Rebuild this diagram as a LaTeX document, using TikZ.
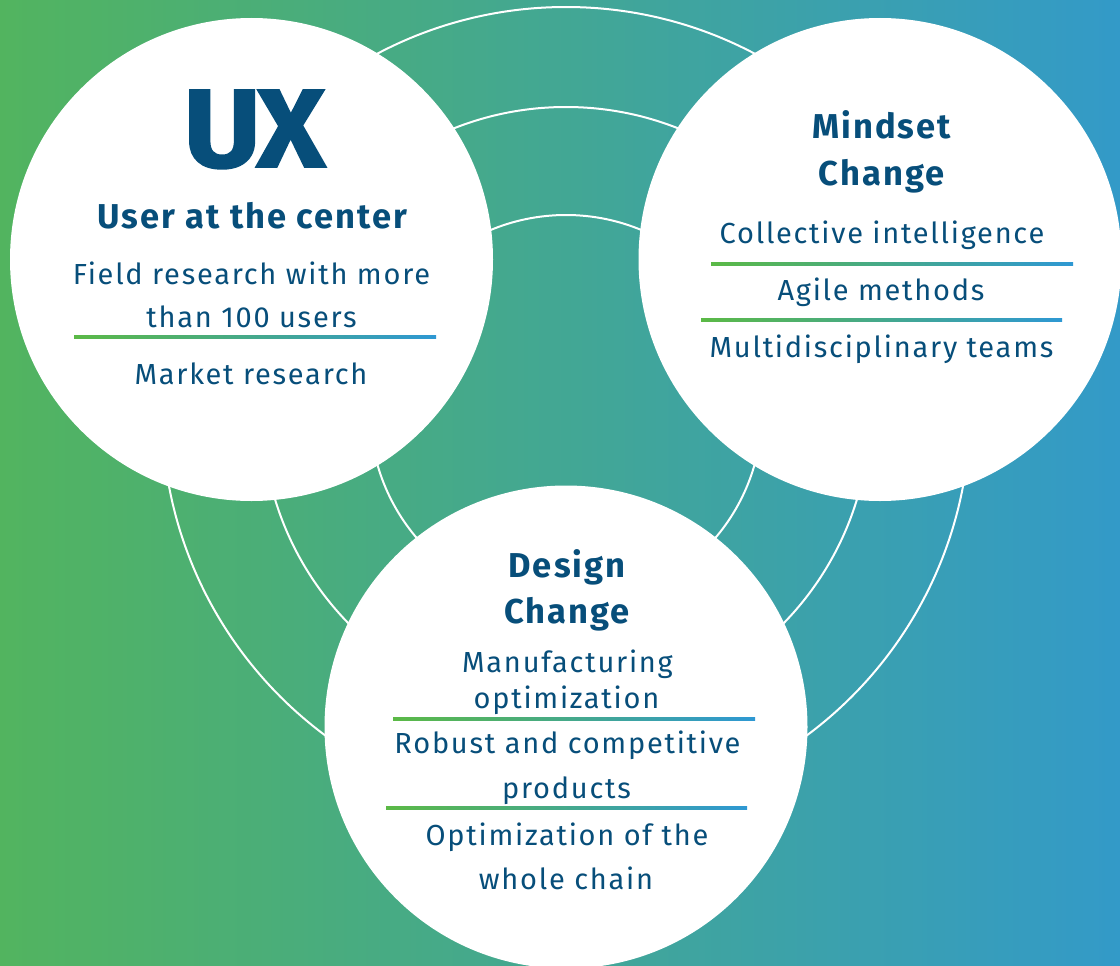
\documentclass[tikz,border=0pt]{standalone}
\usepackage{graphicx}
\usepackage{fontspec}
\setmainfont{Fira Sans}[LetterSpace=6]
\newfontfamily\logofont{Fira Sans}[BoldFeatures={FakeBold=1.5}]
\definecolor{bgL}{HTML}{52B45F}
\definecolor{bgR}{HTML}{339AC8}
\definecolor{txtblue}{HTML}{074E7A}
\definecolor{lnG}{HTML}{5BB946}
\definecolor{lnB}{HTML}{2E98D3}
\begin{document}
\begin{tikzpicture}[x=1pt,y=-1pt,
  bubble/.style={circle, fill=white, inner sep=0pt, minimum size=483pt},
  ring/.style={draw=white, line width=2pt},
  head/.style={anchor=base, inner sep=0pt, text=txtblue, font=\fontsize{34.5}{40}\selectfont\bfseries},
  body/.style={anchor=base, inner sep=0pt, text=txtblue, font=\fontsize{29}{34}\selectfont},
  logo/.style={anchor=base, inner sep=0pt, text=txtblue, font=\logofont\fontsize{111}{111}\selectfont\bfseries},
  sep/.style={left color=lnG, right color=lnB}
]
\useasboundingbox (0,0) rectangle (1120,966);
\shade[left color=bgL, right color=bgR] (0,0) rectangle (1120,966);
% concentric rings
\coordinate (O) at (566,411);
\draw[ring] (O) circle[radius=196];
\draw[ring] (O) circle[radius=304];
\draw[ring] (O) circle[radius=404];
% bubbles
\node[bubble] (L) at (251.5,259.5) {};
\node[bubble] (R) at (880,259.5) {};
\node[bubble] (B) at (566,727) {};
% left bubble
\node[logo] (ux) at (254.5,167) {\scalebox{1.07}[1]{U\kern-4ptX}};
\node[head] (lh) at (252.5,228) {User at the center};
\node[body] (l1) at (251.5,284) {Field research with more};
\node[body] (l2) at (251.5,327) {than 100 users};
\shade[sep] (74,335.8) rectangle (436,338.4);
\node[body] (l3) at (251,384) {Market research};
% right bubble
\node[head] (rh1) at (881.5,139) {Mindset};
\node[head] (rh2) at (881.5,185) {Change};
\node[body] (r1) at (882,243) {Collective intelligence};
\shade[sep] (711,262.8) rectangle (1073,265.4);
\node[body] (r2) at (881,300) {Agile methods};
\shade[sep] (701,318.8) rectangle (1062,321.4);
\node[body] (r3) at (881.5,357) {Multidisciplinary teams};
% bottom bubble
\node[head] (bh1) at (567,577) {Design};
\node[head] (bh2) at (567,623) {Change};
\node[body] (b1) at (567.5,672) {Manufacturing};
\node[body] (b2) at (566.5,708) {optimization};
\shade[sep] (393,717.8) rectangle (755,720.4);
\node[body] (b3) at (567.5,753) {Robust and competitive};
\node[body] (b4) at (566.5,798) {products};
\shade[sep] (386,806.8) rectangle (747,809.4);
\node[body] (b5) at (567,845) {Optimization of the};
\node[body] (b6) at (566,889) {whole chain};
\end{tikzpicture}
\end{document}
